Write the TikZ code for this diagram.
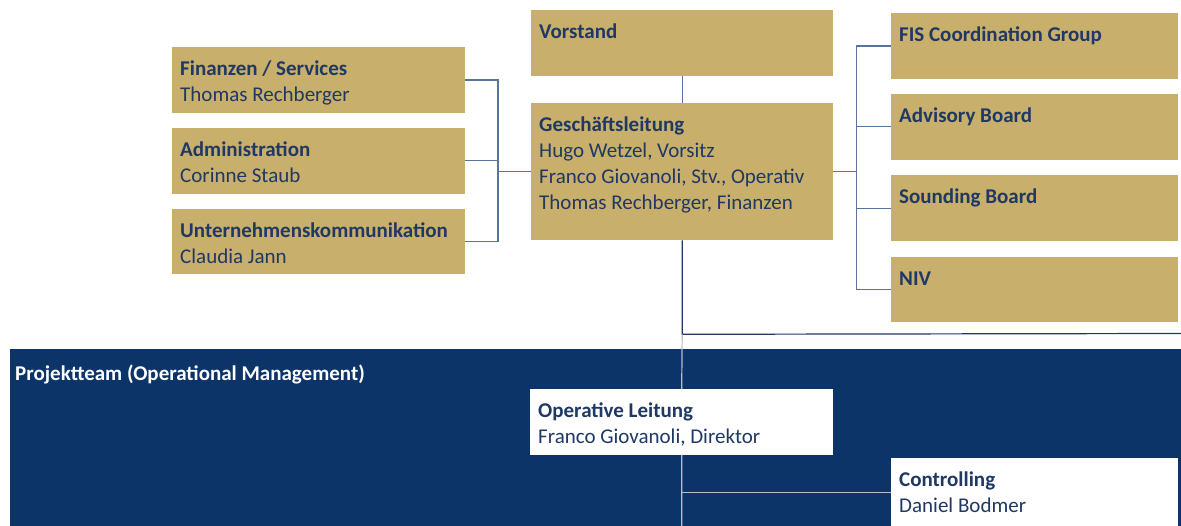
\documentclass[tikz,border=0pt]{standalone}
\usepackage{fontspec}
\setmainfont{Carlito}
\usetikzlibrary{positioning}

\definecolor{boxgold}{HTML}{C8AF6B}
\definecolor{navy}{HTML}{1F3864}
\definecolor{band}{HTML}{0C3468}
\definecolor{linkblue}{HTML}{557599}
\definecolor{linklight}{HTML}{B4C0D2}

\begin{document}
\begin{tikzpicture}[x=1pt, y=-1pt,
  box/.style={anchor=north west, inner sep=0pt, minimum width=#1, minimum height=65.5pt},
  goldbox/.style={box=#1, fill=boxgold},
  whitebox/.style={box=#1, fill=white},
  caption/.style={anchor=north west, inner sep=0pt, align=left, text=navy,
    font=\fontsize{21}{26}\selectfont, xshift=8pt, yshift=-10pt},
  link/.style={draw=linkblue, line width=1.2pt},
  light/.style={draw=linklight, line width=1.2pt}]
\useasboundingbox (0,0) rectangle (1181,526);
% Vorstand und Geschaeftsleitung
\node[goldbox=302pt] (vor) at (531,10) {};
\node[caption] at (vor.north west) {\strut\textbf{Vorstand}};
\node[goldbox=302pt, minimum height=137pt, below=27pt of vor] (gl) {};
\node[caption] at (gl.north west) {\strut\textbf{Geschäftsleitung}\\Hugo Wetzel, Vorsitz\\Franco Giovanoli, Stv., Operativ\\Thomas Rechberger, Finanzen};
% Stabsstellen links
\node[goldbox=293pt] (fin) at (172,47) {};
\node[goldbox=293pt, below=15pt of fin] (adm) {};
\node[goldbox=293pt, below=15pt of adm] (unt) {};
\node[caption] at (fin.north west) {\strut\textbf{Finanzen / Services}\\Thomas Rechberger};
\node[caption] at (adm.north west) {\strut\textbf{Administration}\\Corinne Staub};
\node[caption] at (unt.north west) {\strut\textbf{Unternehmenskommunikation}\\Claudia Jann};
% Gremien rechts
\node[goldbox=287pt] (fis) at (891,13) {};
\node[goldbox=287pt, below=15pt of fis] (adv) {};
\node[goldbox=287pt, below=15.5pt of adv] (snd) {};
\node[goldbox=287pt, below=15.5pt of snd] (niv) {};
\node[caption] at (fis.north west) {\strut\textbf{FIS Coordination Group}};
\node[caption] at (adv.north west) {\strut\textbf{Advisory Board}};
\node[caption] at (snd.north west) {\strut\textbf{Sounding Board}};
\node[caption] at (niv.north west) {\strut\textbf{NIV}};
% Verbindungen
\coordinate (lbus) at ([xshift=-33pt]gl.west);
\coordinate (rbus) at ([xshift=23pt]gl.east);
\foreach \n in {fin,adm,unt}
    \draw[link] (\n.east) -| (lbus);
\foreach \n in {fis,adv,snd,niv}
    \draw[link] (\n.west) -| (rbus);
\draw[link] (lbus) -- (gl.west);
\draw[link] (gl.east) -- (rbus);
\draw[link] (vor) -- (gl);
\coordinate (tee) at ([yshift=-94pt]gl.south);
\coordinate (rim) at (1181,333.5);
\draw[link, draw=navy] (gl.south) -- (tee) -- (rim);
% Projektteam
\fill[band] (10,349) rectangle (1181,526);
\node[caption, text=white] (ptm) at (7,352) {\strut\textbf{Projektteam (Operational Management)}};
\node[whitebox=303pt] (op) at (530,389) {};
\node[caption] at (op.north west) {\strut\textbf{Operative Leitung}\\Franco Giovanoli, Direktor};
\node[whitebox=287pt, minimum height=68pt] (ctl) at (891,458) {};
\node[caption] at (ctl.north west) {\strut\textbf{Controlling}\\Daniel Bodmer};
\coordinate (foot) at (op.south |- 0,526);
\draw[light] (tee) -- (op.north) (op.south) -- (foot);
\draw[light] (op.south |- ctl.west) -- (ctl.west);
\end{tikzpicture}
\end{document}
